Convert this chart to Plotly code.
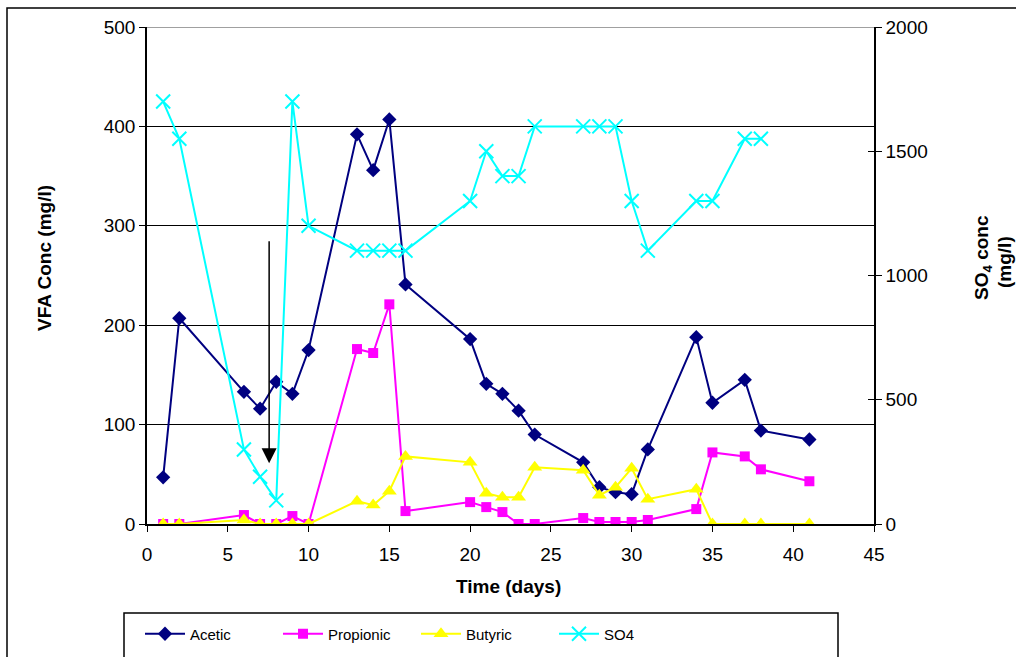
import plotly.graph_objects as go

# Sampling days and concentrations
days = [1, 2, 6, 7, 8, 9, 10, 13, 14, 15, 16, 20, 21, 22, 23, 24, 27, 28, 29, 30, 31, 34, 35, 37, 38, 41]
acetic = [47, 207, 133, 116, 143, 131, 175, 392, 356, 407, 241, 186, 141, 131, 114, 90, 62, 37, 32, 30, 75, 188, 122, 145, 94, 85]
propionic = [0, 0, 9, 0, 0, 8, 0, 176, 172, 221, 13, 22, 17, 12, 0, 0, 6, 2, 2, 2, 4, 15, 72, 68, 55, 43]
butyric = [0, 0, 4, 0, 0, 0, 0, 23, 19, 33, 68, 62, 31, 27, 27, 57, 54, 29, 37, 56, 25, 35, 0, 0, 0, 0]

so4_days = [1, 2, 6, 7, 8, 9, 10, 13, 14, 15, 16, 20, 21, 22, 23, 24, 27, 28, 29, 30, 31, 34, 35, 37, 38]
so4 = [1700, 1550, 300, 190, 95, 1700, 1200, 1100, 1100, 1100, 1100, 1300, 1500, 1400, 1400, 1600,
       1600, 1600, 1600, 1300, 1100, 1300, 1300, 1550, 1550]

# Event marker (arrow) position in data units
arrow_day = 7.56
arrow_top = 286
arrow_tip = 61

W, H = 1016, 657
ML, MR, MT, MB = 147, 142, 27, 133
PW, PH = W - ML - MR, H - MT - MB


def px_x(px):
    return (px - ML) / PW


def px_y(py):
    return (H - MB - py) / PH


FONT = "Liberation Sans, Arial, sans-serif"

fig = go.Figure()

fig.add_trace(go.Scatter(
    x=days, y=acetic, name="Acetic", mode="lines+markers",
    line=dict(color="#000080", width=2),
    marker=dict(symbol="diamond", size=11, color="#000080"),
))
fig.add_trace(go.Scatter(
    x=days, y=propionic, name="Propionic", mode="lines+markers",
    line=dict(color="#FF00FF", width=2),
    marker=dict(symbol="square", size=10, color="#FF00FF"),
))
fig.add_trace(go.Scatter(
    x=days, y=butyric, name="Butyric", mode="lines+markers",
    line=dict(color="#FFFF00", width=2),
    marker=dict(symbol="triangle-up", size=13, color="#FFFF00"),
))
fig.add_trace(go.Scatter(
    x=so4_days, y=so4, name="SO4", mode="lines+markers", yaxis="y2",
    line=dict(color="#00FFFF", width=2),
    marker=dict(symbol="x-thin", size=14, color="#00FFFF",
                line=dict(color="#00FFFF", width=2)),
))
# Empty trace that carries the inner half of the right-hand cross ticks
fig.add_trace(go.Scatter(x=[], y=[], yaxis="y3", showlegend=False, hoverinfo="skip"))

axis_common = dict(
    showline=True, linecolor="#000000", linewidth=1.5,
    ticks="outside", ticklen=6, tickcolor="#000000", tickwidth=1,
    zeroline=False,
    tickfont=dict(family=FONT, size=19, color="#000000"),
)

fig.update_layout(
    width=W, height=H,
    margin=dict(l=ML, r=MR, t=MT, b=MB, autoexpand=False),
    paper_bgcolor="#FFFFFF", plot_bgcolor="#FFFFFF",
    font=dict(family=FONT, color="#000000"),
    showlegend=True,
    xaxis=dict(range=[0, 45], dtick=5, tick0=0, showgrid=False, ticklabelstandoff=6,
               **axis_common),
    yaxis=dict(range=[0, 500], dtick=100, showgrid=True, gridcolor="#000000", gridwidth=1,
               **axis_common),
    yaxis2=dict(range=[0, 2000], dtick=500, overlaying="y", side="right", showgrid=False,
                **axis_common),
    yaxis3=dict(range=[0, 2000], dtick=500, overlaying="y", side="right", showgrid=False,
                showline=False, zeroline=False, showticklabels=False,
                ticks="inside", ticklen=6, tickcolor="#000000", tickwidth=1),
    legend=dict(
        orientation="h", x=px_x(140), y=px_y(634), xanchor="left", yanchor="middle",
        font=dict(family=FONT, size=15, color="#000000"),
        bgcolor="rgba(0,0,0,0)", borderwidth=0,
        entrywidth=83, itemwidth=40, tracegroupgap=0,
    ),
)

# Chart frame and legend frame
fig.add_shape(type="rect", xref="paper", yref="paper",
              x0=px_x(7), x1=px_x(1030), y0=px_y(8), y1=px_y(680),
              line=dict(color="#000000", width=1.5), layer="above")
fig.add_shape(type="rect", xref="paper", yref="paper",
              x0=px_x(124), x1=px_x(838), y0=px_y(613), y1=px_y(680),
              line=dict(color="#000000", width=1.5), layer="above")
# Top gridline in grey
fig.add_shape(type="line", xref="paper", yref="y", x0=0, x1=1, y0=500, y1=500,
              line=dict(color="#808080", width=1.5), layer="above")

# Arrow
fig.add_annotation(
    x=arrow_day, y=arrow_tip, ax=arrow_day, ay=arrow_top,
    xref="x", yref="y", axref="x", ayref="y",
    text="", showarrow=True, arrowhead=2, arrowsize=2.0, arrowwidth=1.5,
    arrowcolor="#000000",
)

title_font = dict(family=FONT, size=19, color="#000000")

# Axis titles
fig.add_annotation(
    x=px_x(44), y=px_y(258), xref="paper", yref="paper", showarrow=False,
    xanchor="center", yanchor="middle",
    text="<b>VFA Conc (mg/l)</b>", textangle=-90, font=title_font,
)
fig.add_annotation(
    x=px_x(508), y=px_y(586), xref="paper", yref="paper", showarrow=False,
    xanchor="center", yanchor="middle",
    text="<b>Time (days)</b>", font=title_font,
)
fig.add_annotation(
    x=px_x(983), y=px_y(258), xref="paper", yref="paper", showarrow=False,
    xanchor="center", yanchor="middle",
    text="<b>SO<sub>4</sub> conc</b>", textangle=-90, font=title_font,
)
fig.add_annotation(
    x=px_x(1004), y=px_y(262), xref="paper", yref="paper", showarrow=False,
    xanchor="center", yanchor="middle",
    text="<b>(mg/l)</b>", textangle=-90, font=title_font,
)

fig.write_html("out.html")
